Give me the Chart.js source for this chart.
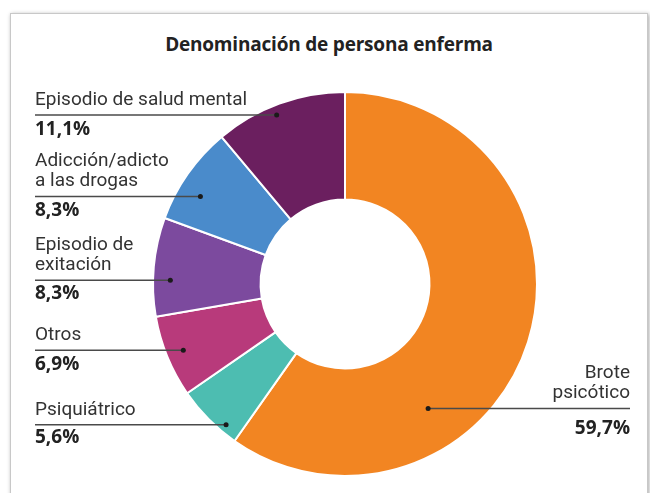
<!DOCTYPE html>
<html>
<head>
<meta charset="utf-8">
<script src="https://cdn.jsdelivr.net/npm/chart.js@4"></script>
<style>
    html, body { margin: 0; padding: 0; background: #fff; }
    body { width: 650px; height: 493px; position: relative; overflow: hidden; }
    .frame {
        position: absolute; left: 10px; top: 13px; width: 636px; height: 500px;
        border: 1px solid #c8c8c8; box-shadow: 1px 1px 4px rgba(0,0,0,0.35);
        background: #fff;
    }
    .title {
        position: absolute; left: 10px; top: 31px; width: 638px; text-align: center;
        font: bold 19px "Open Sans", sans-serif; color: #222; letter-spacing: -0.2px;
    }
    #wrap { position: absolute; left: 0; top: 0; width: 650px; height: 493px; }
</style>
</head>
<body>
<div class="frame"></div>
<div class="title">Denominación de persona enferma</div>
<div id="wrap"><canvas id="chart"></canvas></div>
<script>
// Datos
const categories = ['Brote psicótico', 'Psiquiátrico', 'Otros', 'Episodio de exitación', 'Adicción/adicto a las drogas', 'Episodio de salud mental'];
const labelLines = [['Brote', 'psicótico'], ['Psiquiátrico'], ['Otros'], ['Episodio de', 'exitación'], ['Adicción/adicto', 'a las drogas'], ['Episodio de salud mental']];
const values = [59.7, 5.6, 6.9, 8.3, 8.3, 11.1];
const colors = ['#f28522', '#4dbdb1', '#b83a7b', '#7c4a9e', '#4a8bcb', '#6b1f5f'];

// Donde va el punto de cada etiqueta (fraccion del angulo y del radio) y de que lado va el texto
const anchors = [
    { t: 0.68, rf: 0.78, side: 'right', pctGap: 20 },
    { t: 0.25, rf: 0.96, side: 'left', pctGap: 13 },
    { t: 0.5, rf: 0.91, side: 'left', pctGap: 14 },
    { t: 0.37, rf: 0.91, side: 'left', pctGap: 13 },
    { t: 0.37, rf: 0.88, side: 'left', pctGap: 14 },
    { t: 0.45, rf: 0.95, side: 'left', pctGap: 15 }
];

const fmt = v => v.toFixed(1).replace('.', ',') + '%';

// Plugin para las etiquetas con linea
const leaderLabels = {
    id: 'leaderLabels',
    afterDatasetsDraw(chart) {
        const ctx = chart.ctx;
        const arcs = chart.getDatasetMeta(0).data;
        ctx.save();
        arcs.forEach((arc, i) => {
            const a = anchors[i];
            const p = arc.getProps(['x', 'y', 'startAngle', 'endAngle', 'outerRadius'], true);
            const ang = p.startAngle + (p.endAngle - p.startAngle) * a.t;
            const r = p.outerRadius * a.rf;
            const dx = p.x + Math.cos(ang) * r;
            const dy = p.y + Math.sin(ang) * r;
            const tx = a.side === 'left' ? 35 : 630;

            ctx.strokeStyle = '#4a4a4a';
            ctx.lineWidth = 1.5;
            ctx.beginPath();
            ctx.moveTo(tx, dy);
            ctx.lineTo(dx, dy);
            ctx.stroke();
            ctx.fillStyle = '#1a1a1a';
            ctx.beginPath();
            ctx.arc(dx, dy, 2.5, 0, Math.PI * 2);
            ctx.fill();

            ctx.textAlign = a.side === 'left' ? 'left' : 'right';
            ctx.textBaseline = 'middle';
            ctx.fillStyle = '#333';
            ctx.font = '19px Roboto, sans-serif';
            const lines = labelLines[i];
            lines.forEach((txt, k) => {
                ctx.fillText(txt, tx, dy - 15 - (lines.length - 1 - k) * 20);
            });
            ctx.fillStyle = '#222';
            ctx.font = 'bold 19px "Open Sans", sans-serif';
            ctx.fillText(fmt(values[i]), tx, dy + a.pctGap);
        });
        ctx.restore();
    }
};

const chart = new Chart(document.getElementById('chart').getContext('2d'), {
    type: 'doughnut',
    data: {
        labels: categories,
        datasets: [{
            data: values,
            backgroundColor: colors,
            borderColor: '#ffffff',
            borderWidth: 2
        }]
    },
    options: {
        responsive: true,
        maintainAspectRatio: false,
        animation: false,
        cutout: '44%',
        layout: {
            padding: { left: 152, right: 112, top: 91, bottom: 16 }
        },
        plugins: {
            legend: { display: false },
            tooltip: { enabled: false }
        }
    },
    plugins: [leaderLabels]
});
</script>
</body>
</html>
